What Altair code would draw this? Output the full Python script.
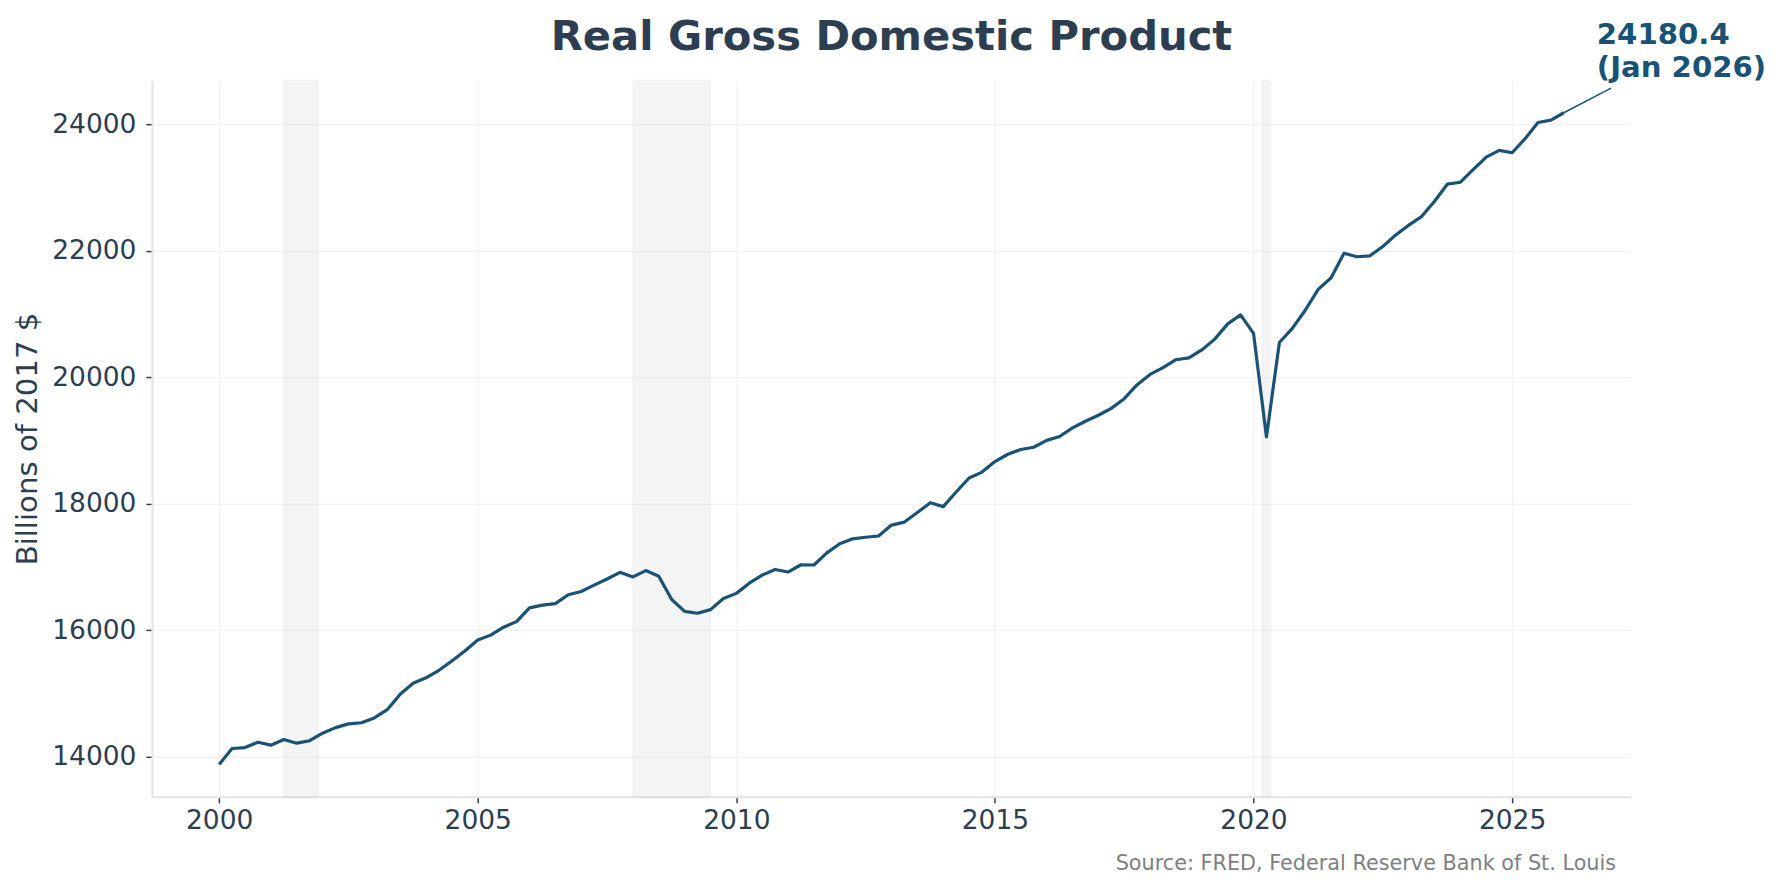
import altair as alt
import pandas as pd

# ---- data (Real GDP, billions of chained 2017 dollars, quarterly) ----
years = [y for y in range(2000, 2026) for _ in range(4)] + [2026]
quarters = [1, 2, 3, 4] * 26 + [1]
gdp = [
    13878.1, 14130.9, 14145.3, 14229.8,
    14183.1, 14271.7, 14214.5, 14253.6,
    14372.8, 14460.8, 14519.6, 14537.6,
    14614.1, 14743.6, 14988.8, 15162.8,
    15248.7, 15366.6, 15512.6, 15670.9,
    15844.7, 15922.8, 16047.6, 16136.7,
    16353.8, 16396.2, 16420.7, 16561.9,
    16611.7, 16713.3, 16809.6, 16915.2,
    16843.0, 16943.3, 16854.3, 16485.4,
    16298.3, 16269.1, 16326.5, 16502.8,
    16582.7, 16743.2, 16872.3, 16960.9,
    16920.3, 17035.1, 17031.3, 17222.6,
    17367.0, 17444.5, 17469.7, 17489.9,
    17662.4, 17709.7, 17860.5, 18016.1,
    17953.9, 18185.9, 18406.9, 18500.0,
    18666.6, 18782.2, 18857.4, 18892.2,
    19001.7, 19062.7, 19197.9, 19304.4,
    19398.3, 19506.9, 19660.8, 19882.4,
    20044.1, 20150.5, 20276.2, 20304.9,
    20431.6, 20602.3, 20843.3, 20985.4,
    20693.2, 19056.6, 20548.8, 20771.7,
    21058.4, 21389.0, 21571.4, 21960.4,
    21903.9, 21919.2, 22066.8, 22249.5,
    22403.4, 22539.4, 22780.9, 23053.5,
    23082.1, 23286.1, 23478.6, 23586.5,
    23548.2, 23771.0, 24026.8, 24065.0,
    24180.4,
]
rec_start = [2001.25, 2008.0, 2020.167]
rec_end = [2001.917, 2009.5, 2020.333]
x_ticks = [2000, 2005, 2010, 2015, 2020, 2025]
y_ticks = [14000, 16000, 18000, 20000, 22000, 24000]
title_text = "Real Gross Domestic Product"
y_title = "Billions of 2017 $"
source_text = "Source: FRED, Federal Reserve Bank of St. Louis"
last_label = "(Jan 2026)"

# ---- build tables ----
df = pd.DataFrame({
    "t": [y + (q - 1) / 4 for y, q in zip(years, quarters)],
    "gdp": gdp,
})
rec = pd.DataFrame({"s": rec_start, "e": rec_end})
last = pd.DataFrame({
    "t": [df["t"].iloc[-1]],
    "gdp": [gdp[-1]],
    "lab": [f"{gdp[-1]:.1f}\n{last_label}"],
})

W, H = 1480, 717
FONT = "DejaVu Sans"
DARK = "#2c3e50"
LINE = "#1a5276"

xscale = alt.Scale(domain=[1998.7, 2027.3], nice=False, zero=False)
yscale = alt.Scale(domain=[13367, 24695], nice=False, zero=False)

xaxis = alt.Axis(
    values=x_ticks, format="d", labelFontSize=26.5, labelColor=DARK, labelFont=FONT,
    tickColor=DARK, tickSize=6, tickWidth=1.5, labelPadding=5,
    domainColor="#e3e3e3", domainWidth=2, gridColor="#f3f3f3", gridWidth=1.3,
)
yaxis = alt.Axis(
    values=y_ticks, format="d", labelFontSize=26.5, labelColor=DARK, labelFont=FONT,
    tickColor=DARK, tickSize=6, tickWidth=1.5, labelPadding=10,
    domainColor="#e3e3e3", domainWidth=2, gridColor="#f3f3f3", gridWidth=1.3,
    title=y_title, titleFontSize=29.2, titleFontWeight="normal", titleColor=DARK,
    titleFont=FONT, titleAngle=270, titleBaseline="alphabetic", titleAlign="center",
    titleX=-115, titleY=H / 2,
)

shade = alt.Chart(rec).mark_rect(
    fill="#808080", fillOpacity=0.09, stroke="#808080", strokeOpacity=0.06, strokeWidth=1.5
).encode(
    x=alt.X("s:Q", scale=xscale, axis=xaxis, title=""),
    x2="e:Q",
    y=alt.value(0),
    y2=alt.value(H),
)

line = alt.Chart(df).mark_line(color=LINE, strokeWidth=3.2, strokeJoin="round").encode(
    x=alt.X("t:Q", scale=xscale, axis=xaxis, title=""),
    y=alt.Y("gdp:Q", scale=yscale, axis=yaxis),
)

conn = alt.Chart(last).mark_rule(color=LINE, strokeWidth=1.5).encode(
    x=alt.X("t:Q", scale=xscale),
    y=alt.Y("gdp:Q", scale=yscale),
    x2=alt.value(1460),
    y2=alt.value(8),
)

ann = alt.Chart(last).mark_text(
    align="left", baseline="alphabetic", dx=33, dy=-69, fontSize=29.2, fontWeight="bold",
    font=FONT, color=LINE, lineBreak="\n", lineHeight=33,
).encode(
    x=alt.X("t:Q", scale=xscale),
    y=alt.Y("gdp:Q", scale=yscale),
    text="lab:N",
)

title = alt.Chart(pd.DataFrame({"s": [title_text]})).mark_text(
    align="center", baseline="alphabetic", fontSize=41.7, fontWeight="bold", font=FONT, color=DARK,
).encode(x=alt.value(W / 2), y=alt.value(-30), text="s:N")

source = alt.Chart(pd.DataFrame({"s": [source_text]})).mark_text(
    align="right", baseline="alphabetic", fontSize=20.8, font=FONT, color="#808080",
).encode(x=alt.value(1465), y=alt.value(790), text="s:N")

chart = alt.layer(shade, line, conn, ann, title, source).properties(
    width=W, height=H,
    autosize=alt.AutoSizeParams(type="none"),
    padding={"left": 144, "top": 72, "right": 140, "bottom": 83},
    background="white",
).configure_view(stroke=None)

chart.save("out.html", embed_options={"renderer": "svg", "actions": False})
